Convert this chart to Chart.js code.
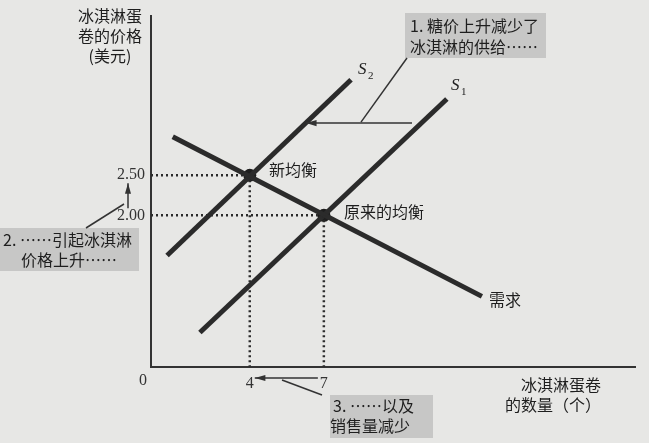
<!DOCTYPE html>
<html>
<head>
<meta charset="utf-8">
<script src="https://cdn.jsdelivr.net/npm/chart.js@4"></script>
<style>
  html, body { margin: 0; padding: 0; background: #e7e7e5; }
  #wrap { width: 649px; height: 443px; }
</style>
</head>
<body>
<div id="wrap"><canvas id="iceCreamChart" width="649" height="443"></canvas></div>
<script>
// values (quantity, price)
const demand = [{ x: 0.88, y: 2.98 }, { x: 13.4, y: 0.99 }];
const supply1 = [{ x: 1.98, y: 0.54 }, { x: 11.98, y: 3.45 }];
const supply2 = [{ x: 0.65, y: 1.5 }, { x: 8.1, y: 3.69 }];
const equilibria = [{ x: 4, y: 2.5 }, { x: 7, y: 2.0 }];
const xTicks = [4, 7];
const yTicks = [2.0, 2.5];
const xMin = 0, xMax = 19.6;
const yMin = 0.11, yMax = 4.49;

const ink = '#2b2b2b';
const font = '"Liberation Serif", "Noto Sans CJK SC", serif';
const cjk = '"Noto Sans CJK SC", "Liberation Serif", serif';

function dotted(a, b) {
  return {
    data: [a, b], showLine: true, borderColor: ink, borderWidth: 2.5,
    borderDash: [2, 3], pointRadius: 0, fill: false,
  };
}

function solid(data) {
  return {
    data: data, showLine: true, borderColor: ink, borderWidth: 5,
    pointRadius: 0, fill: false, borderCapStyle: 'butt',
  };
}

function arrow(ctx, x1, y1, x2, y2) {
  ctx.beginPath();
  ctx.moveTo(x1, y1);
  ctx.lineTo(x2, y2);
  ctx.stroke();
  const a = Math.atan2(y2 - y1, x2 - x1);
  ctx.beginPath();
  ctx.moveTo(x2, y2);
  ctx.lineTo(x2 - 11 * Math.cos(a - 0.28), y2 - 11 * Math.sin(a - 0.28));
  ctx.lineTo(x2 - 11 * Math.cos(a + 0.28), y2 - 11 * Math.sin(a + 0.28));
  ctx.closePath();
  ctx.fill();
}

const notes = {
  id: 'notes',
  beforeDraw(chart) {
    const ctx = chart.ctx;
    ctx.save();
    ctx.fillStyle = '#e7e7e5';
    ctx.fillRect(0, 0, chart.width, chart.height);
    ctx.restore();
  },
  afterDraw(chart) {
    const ctx = chart.ctx;
    const xs = chart.scales.x, ys = chart.scales.y;
    ctx.save();

    // grey note boxes
    ctx.fillStyle = '#c7c7c6';
    ctx.fillRect(405, 13, 141, 45);
    ctx.fillRect(0, 228, 139, 43);
    ctx.fillRect(330, 395, 103, 43);

    ctx.fillStyle = '#1e1e1e';
    ctx.textBaseline = 'middle';
    ctx.font = '16px ' + cjk;
    ctx.textAlign = 'left';
    ctx.fillText('1. 糖价上升减少了', 410, 26);
    ctx.fillText('冰淇淋的供给……', 410, 47);
    ctx.fillText('2. ……引起冰淇淋', 3, 240);
    ctx.fillText('价格上升……', 21, 260);
    ctx.fillText('3. ……以及', 333, 406);
    ctx.fillText('销售量减少', 330, 426);

    // axis titles
    ctx.textAlign = 'center';
    ctx.fillText('冰淇淋蛋', 110, 16);
    ctx.fillText('卷的价格', 110, 36);
    ctx.fillText('(美元)', 110, 56);
    ctx.textAlign = 'right';
    ctx.fillText('冰淇淋蛋卷', 601, 385);
    ctx.fillText('的数量（个）', 601, 405);

    // curve labels
    ctx.textAlign = 'left';
    ctx.fillText('需求', 489, 300);
    ctx.fillText('新均衡', 269, 170);
    ctx.fillText('原来的均衡', 344, 212);
    ctx.font = 'italic 17px ' + font;
    ctx.fillText('S', 358, 70);
    ctx.fillText('S', 451, 86);
    ctx.font = '11px ' + font;
    ctx.fillText('2', 368, 76);
    ctx.fillText('1', 461, 92);

    // origin label
    ctx.font = '16px ' + font;
    ctx.fillStyle = '#333';
    ctx.textAlign = 'center';
    ctx.fillText('0', 143, 381);

    // arrows and leader lines
    ctx.strokeStyle = '#333';
    ctx.fillStyle = '#333';
    ctx.lineWidth = 1.5;
    const pShift = 3.15;
    const yShift = ys.getPixelForValue(pShift);
    arrow(ctx, 412, yShift, 306, yShift);
    ctx.beginPath();
    ctx.moveTo(407, 58);
    ctx.lineTo(361, yShift - 1);
    ctx.stroke();

    const xq = 128;
    arrow(ctx, xq, ys.getPixelForValue(2.0) - 7, xq, ys.getPixelForValue(2.5) + 8);
    ctx.beginPath();
    ctx.moveTo(86, 228);
    ctx.lineTo(124, 204);
    ctx.stroke();

    const yq = 378;
    arrow(ctx, xs.getPixelForValue(7) - 6, yq, xs.getPixelForValue(4) + 5, yq);
    ctx.beginPath();
    ctx.moveTo(282, 380);
    ctx.lineTo(322, 395);
    ctx.stroke();

    ctx.restore();
  },
};

new Chart(document.getElementById('iceCreamChart'), {
  type: 'scatter',
  data: {
    datasets: [
      dotted({ x: 0, y: 2.5 }, { x: 4, y: 2.5 }),
      dotted({ x: 0, y: 2.0 }, { x: 7, y: 2.0 }),
      dotted({ x: 4, y: 2.5 }, { x: 4, y: yMin }),
      dotted({ x: 7, y: 2.0 }, { x: 7, y: yMin }),
      solid(demand),
      solid(supply1),
      solid(supply2),
      {
        data: equilibria, pointRadius: 6.5, pointBackgroundColor: '#1e1e1e',
        pointBorderWidth: 0, showLine: false,
      },
    ],
  },
  options: {
    responsive: false,
    animation: false,
    layout: { padding: { left: 0, top: 8, right: 14, bottom: 0 } },
    plugins: {
      legend: { display: false },
      tooltip: { enabled: false },
    },
    scales: {
      x: {
        type: 'linear', min: xMin, max: xMax,
        grid: { display: false, drawTicks: false },
        border: { display: true, color: '#333', width: 2 },
        afterBuildTicks: (scale) => { scale.ticks = xTicks.map((v) => ({ value: v })); },
        afterFit: (scale) => { scale.height = 76; },
        ticks: { color: '#333', padding: 7, font: { family: font, size: 16 }, maxRotation: 0 },
      },
      y: {
        type: 'linear', min: yMin, max: yMax,
        grid: { display: false, drawTicks: false },
        border: { display: true, color: '#333', width: 2 },
        afterBuildTicks: (scale) => { scale.ticks = yTicks.map((v) => ({ value: v })); },
        afterFit: (scale) => { scale.width = 151; },
        ticks: {
          color: '#333', padding: 6, font: { family: font, size: 16 },
          callback: (v) => Number(v).toFixed(2),
        },
      },
    },
  },
  plugins: [notes],
});
</script>
</body>
</html>
